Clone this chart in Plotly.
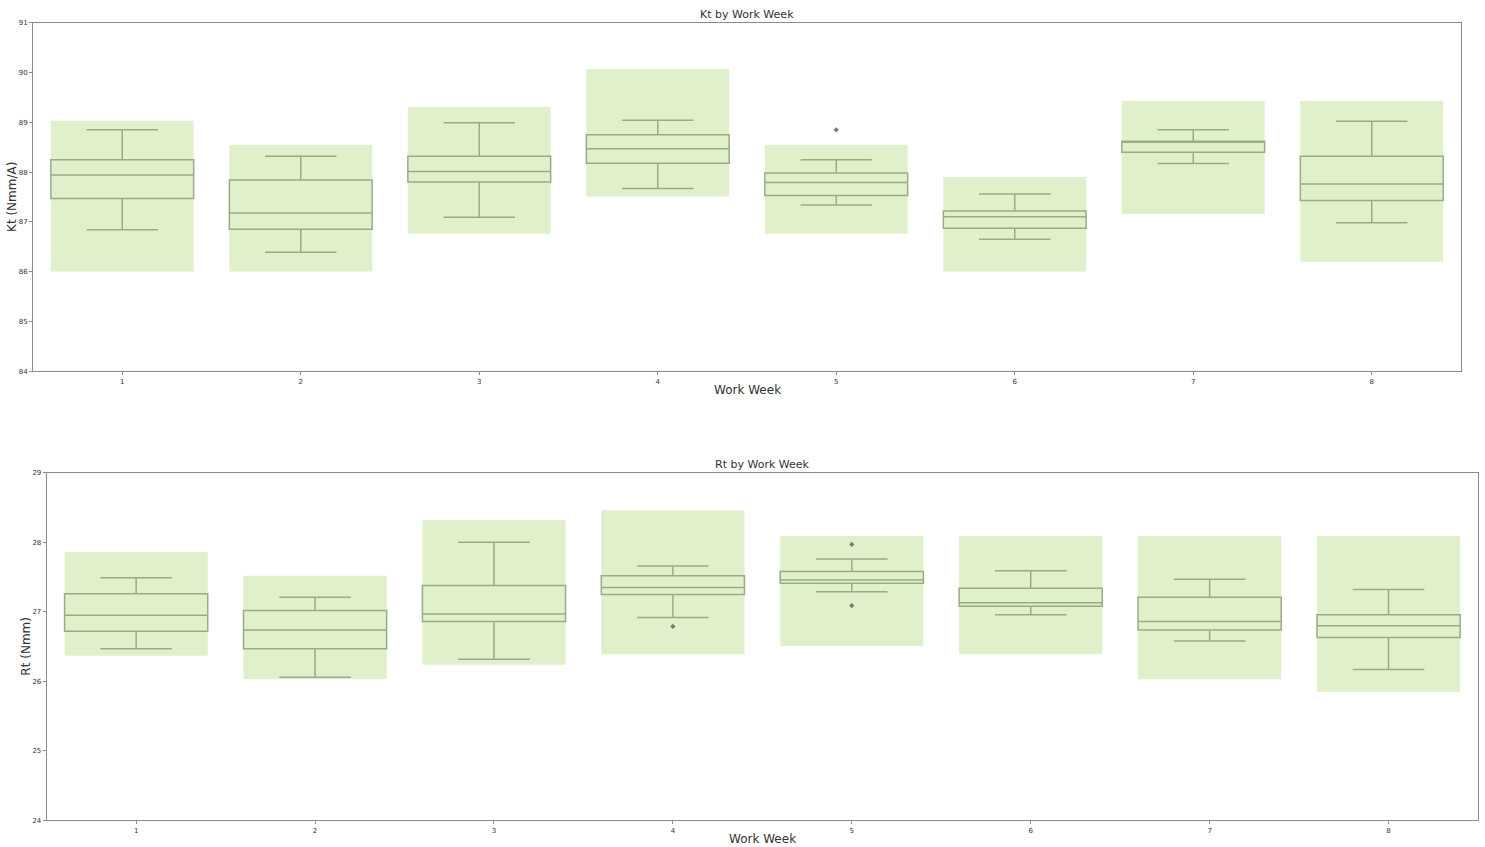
import plotly.graph_objects as go

weeks = [1, 2, 3, 4, 5, 6, 7, 8]
week_labels = ["1", "2", "3", "4", "5", "6", "7", "8"]

# Kt (Nmm/A) box statistics per work week
kt_lower = [86.84, 86.39, 87.09, 87.67, 87.34, 86.65, 88.17, 86.98]
kt_q1 = [87.47, 86.85, 87.80, 88.18, 87.53, 86.87, 88.40, 87.43]
kt_median = [87.94, 87.18, 88.01, 88.47, 87.79, 87.10, 88.61, 87.76]
kt_q3 = [88.25, 87.84, 88.32, 88.75, 87.98, 87.22, 88.62, 88.32]
kt_upper = [88.85, 88.32, 88.99, 89.04, 88.25, 87.56, 88.85, 89.02]
kt_band_low = [86.00, 86.00, 86.76, 87.51, 86.76, 86.00, 87.16, 86.20]
kt_band_high = [89.03, 88.55, 89.31, 90.07, 88.55, 87.90, 89.43, 89.43]
kt_outlier_week = [5]
kt_outlier_value = [88.85]

# Rt (Nmm) box statistics per work week
rt_lower = [26.47, 26.06, 26.32, 26.92, 27.29, 26.96, 26.58, 26.17]
rt_q1 = [26.72, 26.47, 26.86, 27.25, 27.41, 27.08, 26.74, 26.63]
rt_median = [26.95, 26.74, 26.97, 27.35, 27.46, 27.13, 26.86, 26.80]
rt_q3 = [27.26, 27.02, 27.38, 27.52, 27.58, 27.34, 27.21, 26.96]
rt_upper = [27.49, 27.21, 28.00, 27.66, 27.76, 27.59, 27.47, 27.32]
rt_band_low = [26.37, 26.03, 26.24, 26.39, 26.51, 26.39, 26.03, 25.85]
rt_band_high = [27.86, 27.52, 28.32, 28.46, 28.09, 28.09, 28.09, 28.09]
rt_outlier_week = [4, 5, 5]
rt_outlier_value = [26.79, 27.97, 27.09]

band_color = "#dff0ca"
box_color = "#9aab88"
axis_color = "#8c8c8c"
text_color = "#333333"
font_family = "DejaVu Sans"

fig = go.Figure()


def add_panel(xa, ya, lower, q1, med, q3, upper, blow, bhigh, ow, ov):
    fig.add_trace(go.Bar(
        x=weeks, y=[h - l for h, l in zip(bhigh, blow)], base=blow,
        width=0.8, marker=dict(color=band_color, line=dict(width=0)),
        xaxis=xa, yaxis=ya, showlegend=False, hoverinfo="skip",
    ))
    fig.add_trace(go.Box(
        x=weeks, q1=q1, median=med, q3=q3, lowerfence=lower, upperfence=upper,
        width=0.8, whiskerwidth=0.5, fillcolor="rgba(0,0,0,0)",
        line=dict(color=box_color, width=1.5), boxpoints=False,
        xaxis=xa, yaxis=ya, showlegend=False,
    ))
    fig.add_trace(go.Scatter(
        x=ow, y=ov, mode="markers",
        marker=dict(symbol="diamond", size=4, color="#7a7a7a"),
        xaxis=xa, yaxis=ya, showlegend=False,
    ))


add_panel("x", "y", kt_lower, kt_q1, kt_median, kt_q3, kt_upper,
          kt_band_low, kt_band_high, kt_outlier_week, kt_outlier_value)
add_panel("x2", "y2", rt_lower, rt_q1, rt_median, rt_q3, rt_upper,
          rt_band_low, rt_band_high, rt_outlier_week, rt_outlier_value)

W, H = 1485, 847
top_dom_x = [33 / W, 1461 / W]
top_dom_y = [0.5624, 0.9776]
bot_dom_x = [46.7 / W, 1478 / W]
bot_dom_y = [0.0269, 0.4412]

axis_common = dict(
    showline=True, linecolor=axis_color, linewidth=1, mirror=True,
    showgrid=False, zeroline=False, ticks="outside", ticklen=3,
    tickcolor=axis_color, tickfont=dict(size=7, color=text_color, family=font_family),
)

fig.update_layout(
    width=W, height=H, margin=dict(l=0, r=0, t=0, b=0),
    paper_bgcolor="white", plot_bgcolor="white",
    barmode="overlay", boxmode="overlay",
    font=dict(family=font_family, color=text_color),
    xaxis=dict(domain=top_dom_x, anchor="y", range=[0.5, 8.5],
               tickvals=weeks, ticktext=week_labels, **axis_common),
    yaxis=dict(domain=top_dom_y, anchor="x", range=[84, 91], dtick=1, **axis_common),
    xaxis2=dict(domain=bot_dom_x, anchor="y2", range=[0.5, 8.5],
                tickvals=weeks, ticktext=week_labels, **axis_common),
    yaxis2=dict(domain=bot_dom_y, anchor="x2", range=[24, 29], dtick=1, **axis_common),
)

ann = []
# Titles
ann.append(dict(text="Kt by Work Week", xref="paper", yref="paper",
                x=(top_dom_x[0] + top_dom_x[1]) / 2, y=top_dom_y[1],
                xanchor="center", yanchor="bottom", yshift=0, showarrow=False,
                font=dict(size=11, color=text_color)))
ann.append(dict(text="Rt by Work Week", xref="paper", yref="paper",
                x=(bot_dom_x[0] + bot_dom_x[1]) / 2, y=bot_dom_y[1],
                xanchor="center", yanchor="bottom", yshift=0, showarrow=False,
                font=dict(size=11, color=text_color)))
# X-axis titles
ann.append(dict(text="Work Week", xref="paper", yref="paper",
                x=(top_dom_x[0] + top_dom_x[1]) / 2, y=top_dom_y[0],
                xanchor="center", yanchor="top", yshift=-10, showarrow=False,
                font=dict(size=12, color=text_color)))
ann.append(dict(text="Work Week", xref="paper", yref="paper",
                x=(bot_dom_x[0] + bot_dom_x[1]) / 2, y=bot_dom_y[0],
                xanchor="center", yanchor="top", yshift=-10, showarrow=False,
                font=dict(size=12, color=text_color)))
# Y-axis titles
ann.append(dict(text="Kt (Nmm/A)", xref="paper", yref="paper",
                x=12 / W, y=(top_dom_y[0] + top_dom_y[1]) / 2,
                xanchor="center", yanchor="middle", textangle=-90, showarrow=False,
                font=dict(size=12, color=text_color)))
ann.append(dict(text="Rt (Nmm)", xref="paper", yref="paper",
                x=26 / W, y=(bot_dom_y[0] + bot_dom_y[1]) / 2,
                xanchor="center", yanchor="middle", textangle=-90, showarrow=False,
                font=dict(size=12, color=text_color)))
fig.update_layout(annotations=ann)

fig.write_html("out.html")
